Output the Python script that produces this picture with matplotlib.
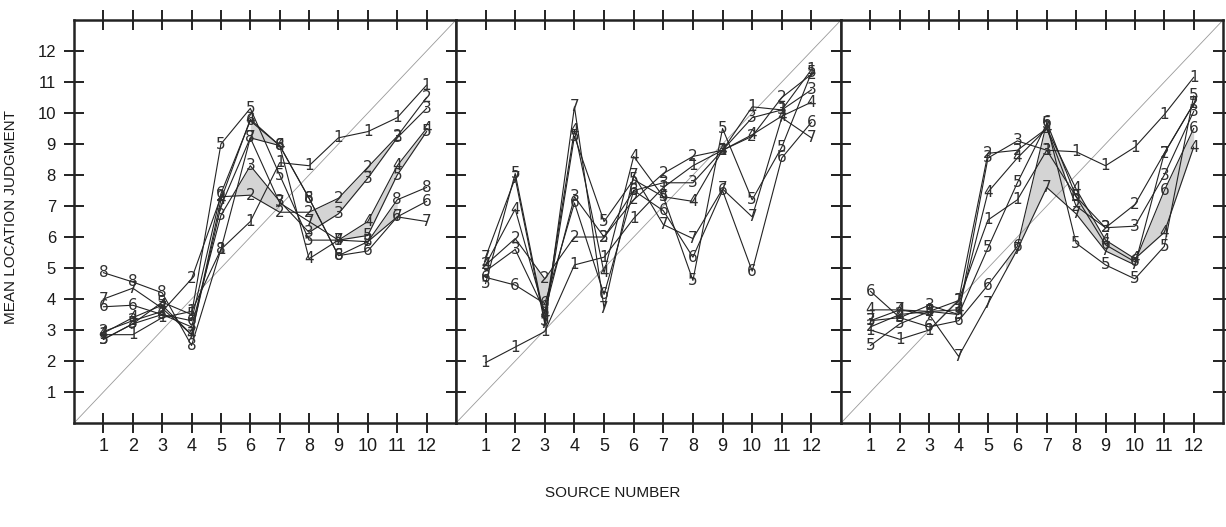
import numpy as np
import matplotlib.pyplot as plt

plt.rcParams['font.family'] = ['Liberation Sans', 'DejaVu Sans']

sources = list(range(1, 13))
identity = [0, 13]

# left panel, series 1-8
l1 = [2.85, 2.85, 3.4, 3.6, 5.6, 6.5, 8.4, 8.3, 9.2, 9.4, 9.85, 10.9]
l2 = [2.95, 3.3, 3.6, 4.65, 7.3, 7.35, 6.8, 6.8, 7.25, 8.25, 9.25, 10.5]
l3 = [2.7, 3.2, 3.5, 3.1, 6.7, 8.3, 7.15, 6.15, 6.75, 7.9, 9.2, 10.15]
l4 = [2.9, 3.4, 3.8, 2.85, 7.2, 9.8, 8.95, 5.3, 5.9, 6.5, 8.3, 9.5]
l5 = [2.7, 3.2, 3.9, 3.5, 9.0, 10.15, 8.0, 5.9, 5.9, 6.05, 8.0, 9.4]
l6 = [3.75, 3.8, 3.5, 3.3, 7.4, 9.75, 8.95, 7.25, 5.4, 5.55, 6.65, 7.15]
l7 = [4.0, 4.35, 3.7, 2.85, 7.0, 9.2, 7.1, 6.5, 5.9, 5.85, 6.65, 6.5]
l8 = [4.85, 4.55, 4.2, 2.5, 5.6, 9.2, 8.95, 7.25, 5.4, 5.85, 7.2, 7.6]

# middle panel, series 1-7
m1 = [1.95, 2.45, 2.95, 5.1, 5.35, 6.6, 7.6, 8.3, 8.8, 10.2, 10.1, 11.4]
m2 = [5.1, 5.95, 4.65, 6.0, 6.0, 7.2, 8.05, 8.6, 8.8, 9.25, 10.5, 11.25]
m3 = [4.9, 5.6, 3.6, 7.3, 6.0, 7.5, 7.75, 7.75, 8.8, 9.85, 10.1, 10.75]
m4 = [5.1, 6.9, 3.5, 9.45, 4.85, 8.6, 7.3, 7.15, 8.8, 9.3, 9.9, 10.35]
m5 = [4.5, 8.05, 3.3, 9.25, 6.5, 7.85, 7.3, 4.6, 9.5, 7.2, 8.9, 11.3]
m6 = [4.7, 4.45, 3.85, 7.1, 4.15, 7.5, 6.85, 5.35, 7.5, 4.9, 8.55, 9.7]
m7 = [5.35, 7.9, 3.2, 10.2, 3.7, 8.0, 6.4, 5.95, 7.55, 6.65, 9.85, 9.2]

# right panel, series 1-7
r1 = [3.0, 2.7, 3.0, 3.95, 6.55, 7.2, 8.8, 8.75, 8.3, 8.9, 9.95, 11.15]
r2 = [3.1, 3.5, 3.6, 3.95, 8.7, 8.8, 9.5, 7.0, 6.3, 7.05, 8.7, 10.3]
r3 = [3.3, 3.4, 3.8, 3.5, 8.55, 9.1, 8.8, 7.3, 6.3, 6.35, 8.0, 10.05]
r4 = [3.65, 3.65, 3.6, 3.65, 7.45, 8.55, 9.5, 7.55, 5.9, 5.3, 6.15, 8.9]
r5 = [2.5, 3.2, 3.6, 3.5, 5.65, 7.75, 9.65, 5.8, 5.1, 4.65, 5.7, 10.55]
r6 = [4.25, 3.4, 3.1, 3.3, 4.45, 5.7, 9.7, 7.3, 5.75, 5.2, 7.5, 9.5]
r7 = [3.3, 3.65, 3.5, 2.15, 3.85, 5.6, 7.6, 6.75, 5.55, 5.1, 8.7, 10.3]

left_series = [l1, l2, l3, l4, l5, l6, l7, l8]
middle_series = [m1, m2, m3, m4, m5, m6, m7]
right_series = [r1, r2, r3, r4, r5, r6, r7]

# shaded bands: (series a, series b, from source, to source)
left_bands = [(4, 8, 6, 7), (2, 3, 5.4, 7), (2, 3, 8, 11), (4, 5, 9, 11),
              (7, 8, 10, 11), (4, 5, 11, 12)]
middle_bands = [(2, 4, 2.7, 3.2)]
right_bands = [(6, 7, 5.6, 7.6), (4, 7, 8, 10), (6, 4, 10, 12)]

panels = [
    (0.0604, 0.3115, left_series, left_bands),
    (0.3719, 0.3141, middle_series, middle_bands),
    (0.6860, 0.3116, right_series, right_bands),
]

fig = plt.figure(figsize=(12.26, 5.27), dpi=100)
ink = '#232323'

for i, (left, width, series, bands) in enumerate(panels):
    ax = fig.add_axes([left, 0.1973, width, 0.7647])
    ax.set_xlim(0, 13)
    ax.set_ylim(0, 13)

    for a, b, x0, x1 in bands:
        xs = np.linspace(x0, x1, 200)
        ya = np.interp(xs, sources, series[a - 1])
        yb = np.interp(xs, sources, series[b - 1])
        ax.fill_between(xs, ya, yb, color='#d4d4d4', lw=0, zorder=1)

    ax.plot(identity, identity, color='#999999', lw=0.6, zorder=1.5)

    for n, vals in enumerate(series, start=1):
        ax.plot(sources, vals, color=ink, lw=0.8, zorder=2)
        for x, y in zip(sources, vals):
            ax.text(x, y, str(n), ha='center', va='center', fontsize=11,
                    color='#303030', family='DejaVu Sans', zorder=3)

    ax.set_xticks(sources)
    ax.set_yticks(list(range(1, 13)))
    ax.tick_params(axis='both', direction='inout', length=14, width=1.4,
                   color=ink, top=True, right=True, labelsize=13,
                   labelcolor='#1a1a1a', pad=4)
    ax.tick_params(axis='y', labelsize=12, labelleft=(i == 0), pad=6)
    for sp in ax.spines.values():
        sp.set_linewidth(1.8)
        sp.set_color(ink)

fig.text(0.5, 0.064, 'SOURCE NUMBER', ha='center', va='center',
         fontsize=11, color='#1a1a1a')
fig.text(0.009, 0.588, 'MEAN LOCATION JUDGMENT', ha='center', va='center',
         rotation=90, fontsize=11, color='#1a1a1a')

fig.savefig('out.png', dpi=100)
